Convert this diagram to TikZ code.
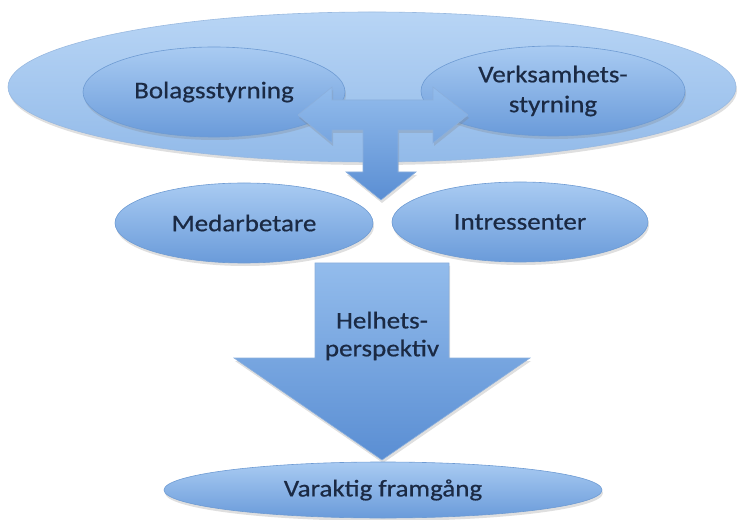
\documentclass[tikz,border=0pt]{standalone}
\usepackage{fontspec}
\setmainfont[FakeStretch=1.13,FakeBold=0.6]{Carlito}
\usepackage{tikz}
\usetikzlibrary{shapes.geometric,shadows}
\definecolor{ovaltop}{HTML}{A9CBF2}
\definecolor{ovalbot}{HTML}{6A9BDA}
\definecolor{ovalline}{HTML}{6E9BD3}
\definecolor{outertop}{HTML}{B8D5F5}
\definecolor{outerbot}{HTML}{92BAE9}
\definecolor{arrowtop}{HTML}{93BCEC}
\definecolor{arrowbot}{HTML}{5A8ED3}
\definecolor{labeltext}{HTML}{1B2A44}

\begin{document}
\begin{tikzpicture}[x=1bp,y=-1bp,
    oval/.style={ellipse,draw=ovalline,line width=0.6bp,top color=ovaltop,bottom color=ovalbot,
      text=labeltext,align=center,inner sep=0pt,
      font=\fontsize{24}{30}\selectfont,
      drop shadow={opacity=0.25,shadow xshift=1bp,shadow yshift=-3bp}},
    blockarrow/.style={draw=ovalline!80,line width=0.6bp,top color=arrowtop,bottom color=arrowbot,
      drop shadow={opacity=0.25,shadow xshift=1bp,shadow yshift=-3bp}}]
  \useasboundingbox (0,0) rectangle (742,520);
  % outer frame for the two kinds of governance
  \node[oval,top color=outertop,bottom color=outerbot,draw=ovalline!70,
    minimum width=728bp,minimum height=150bp] (outer) at (372,87) {};
  \node[oval,minimum width=262bp,minimum height=90bp] (bolag) at (214,92) {Bolagsstyrning};
  \node[oval,minimum width=264bp,minimum height=90bp] (verk) at (553,91) {Verksamhets-\\styrning};
  % T-shaped arrow
  \draw[blockarrow] (298,115) -- (332,87) -- (332,100) -- (433,100) -- (433,87) -- (468,115)
    -- (433,143) -- (433,130) -- (398,130) -- (398,172) -- (416,172) -- (381,200)
    -- (346,172) -- (363,172) -- (363,130) -- (332,130) -- (332,143) -- cycle;
  \node[oval,minimum width=258bp,minimum height=80bp] (medarb) at (244,223) {Medarbetare};
  \node[oval,minimum width=256bp,minimum height=80bp] (intress) at (520,222) {Intressenter};
  % big arrow down
  \draw[blockarrow] (315,263) -- (449,263) -- (449,358) -- (530,358) -- (382,460)
    -- (234,358) -- (315,358) -- cycle;
  \node[text=labeltext,align=center,font=\fontsize{24}{28}\selectfont] (helhet) at (382,336) {Helhets-\\perspektiv};
  \node[oval,minimum width=438bp,minimum height=56bp] (framgang) at (383,490) {Varaktig framgång};
\end{tikzpicture}
\end{document}
